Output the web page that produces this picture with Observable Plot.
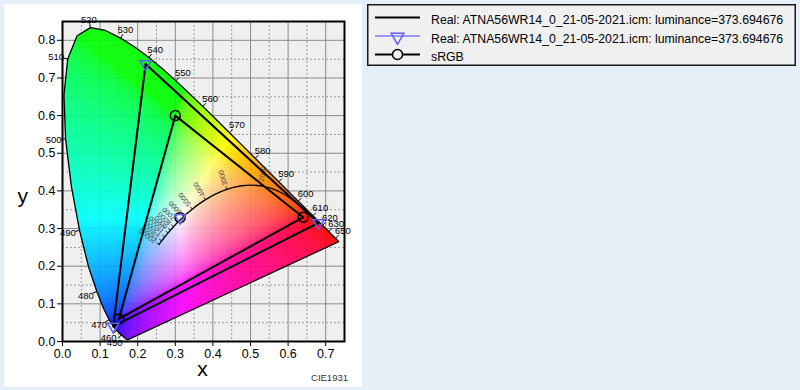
<!DOCTYPE html>
<html><head><meta charset="utf-8">
<script src="https://cdn.jsdelivr.net/npm/d3@7"></script>
<script src="https://cdn.jsdelivr.net/npm/@observablehq/plot@0.6"></script>
<style>
html,body{margin:0;padding:0;width:800px;height:390px;overflow:hidden;background:#e6eef8;font-family:"Liberation Sans",Arial,sans-serif;}
#panel{position:absolute;left:4px;top:4px;width:358px;height:383px;background:#ffffff;}
#chart{position:absolute;left:0;top:0;}
#legend{position:absolute;left:367px;top:4px;}
#cie{position:absolute;left:300px;width:48px;top:372px;text-align:right;font-size:9.5px;color:#333;}
</style></head>
<body>
<div id="panel"></div>
<div id="chart"></div>
<div id="legend"></div>
<div id="cie">CIE1931</div>
<script>
// CIE 1931 spectral locus (nm, x, y)
const locusW = [380,385,390,395,400,405,410,415,420,425,430,435,440,445,450,455,460,465,470,475,480,485,490,495,500,505,510,515,520,525,530,535,540,545,550,555,560,565,570,575,580,585,590,595,600,605,610,615,620,625,630,635,640,645,650,655,660,665,670,680,690,700];
const locusX = [0.1741,0.1740,0.1738,0.1736,0.1733,0.1730,0.1726,0.1721,0.1714,0.1703,0.1689,0.1669,0.1644,0.1611,0.1566,0.1510,0.1440,0.1355,0.1241,0.1096,0.0913,0.0687,0.0454,0.0235,0.0082,0.0039,0.0139,0.0389,0.0743,0.1142,0.1547,0.1929,0.2296,0.2658,0.3016,0.3373,0.3731,0.4087,0.4441,0.4788,0.5125,0.5448,0.5752,0.6029,0.6270,0.6482,0.6658,0.6801,0.6915,0.7006,0.7079,0.7140,0.7190,0.7230,0.7260,0.7283,0.7300,0.7311,0.7320,0.7334,0.7344,0.7347];
const locusY = [0.0050,0.0050,0.0049,0.0049,0.0048,0.0048,0.0048,0.0048,0.0051,0.0058,0.0069,0.0086,0.0109,0.0138,0.0177,0.0227,0.0297,0.0399,0.0578,0.0868,0.1327,0.2007,0.2950,0.4127,0.5384,0.6548,0.7502,0.8120,0.8338,0.8262,0.8059,0.7816,0.7543,0.7243,0.6923,0.6589,0.6245,0.5896,0.5547,0.5202,0.4866,0.4544,0.4242,0.3965,0.3725,0.3514,0.3340,0.3197,0.3083,0.2993,0.2920,0.2859,0.2809,0.2770,0.2740,0.2717,0.2700,0.2689,0.2680,0.2666,0.2656,0.2653];
const waveLabels = [450,460,470,480,490,500,510,520,530,540,550,560,570,580,590,600,610,620,630,650];

// Planckian locus (K, x, y)
const planckT = [1000,1500,2000,2500,3000,3500,4000,4500,5000,5500,6000,6500,7000,8000,9000,10000,12000,15000,20000];
const planckX = [0.6528,0.5857,0.5267,0.4770,0.4369,0.4053,0.3805,0.3608,0.3451,0.3325,0.3221,0.3135,0.3064,0.2952,0.2869,0.2807,0.2719,0.2637,0.2565];
const planckY = [0.3444,0.3931,0.4133,0.4137,0.4041,0.3907,0.3768,0.3636,0.3516,0.3411,0.3318,0.3236,0.3166,0.3048,0.2956,0.2884,0.2776,0.2671,0.2574];
const planckLabelT = [2000,3000,4000,5000,6000,7000,8000,9000,10000,12000,15000,20000];

// Measured display primaries (R, G, B) and white
const realX = [0.681,0.221,0.135];
const realY = [0.315,0.737,0.040];
const realWhiteX = [0.3127];
const realWhiteY = [0.329];

// sRGB primaries and white
const srgbX = [0.64,0.30,0.15];
const srgbY = [0.33,0.60,0.06];
const srgbWhiteX = [0.3127];
const srgbWhiteY = [0.329];

const xTicks = [0,0.1,0.2,0.3,0.4,0.5,0.6,0.7];
const yTicks = [0,0.1,0.2,0.3,0.4,0.5,0.6,0.7,0.8];
const xMinor = [0.05,0.15,0.25,0.35,0.45,0.55,0.65];
const yMinor = [0.05,0.15,0.25,0.35,0.45,0.55,0.65,0.75];

const legendLabels = [
  "Real: ATNA56WR14_0_21-05-2021.icm: luminance=373.694676",
  "Real: ATNA56WR14_0_21-05-2021.icm: luminance=373.694676",
  "sRGB"
];

// ---- derived tables ----
const locus = locusW.map((w,i)=>({w, x:locusX[i], y:locusY[i]}));
const locusClosed = locus.concat([locus[0]]);
const poly = locus.map(d=>[d.x,d.y]);

function gam(c){ return c <= 0.0031308 ? 12.92*c : 1.055*Math.pow(c,1/2.4)-0.055; }
function chroma(x, y){
  if (y <= 0 || !d3.polygonContains(poly,[x,y])) return null;
  const X = x/y, Y = 1, Z = (1-x-y)/y;
  let r = 3.2406*X - 1.5372*Y - 0.4986*Z;
  let g = -0.9689*X + 1.8758*Y + 0.0415*Z;
  let b = 0.0557*X - 0.2040*Y + 1.0570*Z;
  r = Math.max(r,0); g = Math.max(g,0); b = Math.max(b,0);
  const m = Math.max(r,g,b) || 1;
  r = gam(r/m); g = gam(g/m); b = gam(b/m);
  return `rgb(${Math.round(r*255)},${Math.round(g*255)},${Math.round(b*255)})`;
}

const PX = 376; // approx pixels per unit
const waveTable = waveLabels.map(w=>{
  const i = locusW.indexOf(w);
  const a = locus[Math.max(0,i-1)], b = locus[Math.min(locus.length-1,i+1)];
  let tx = b.x-a.x, ty = b.y-a.y; const L = Math.hypot(tx,ty); tx/=L; ty/=L;
  const nx = -ty, ny = tx;
  const k = (7 + 5*Math.abs(nx))/PX, t = 4.5/PX;
  const p = locus[i];
  return {w, x:p.x, y:p.y, tx2:p.x+nx*t, ty2:p.y+ny*t, lx:p.x+nx*k, ly:p.y+ny*k};
});

const planck = planckT.map((T,i)=>({T, x:planckX[i], y:planckY[i]}));
const planckTable = planckLabelT.map(T=>{
  const i = planckT.indexOf(T);
  const a = planck[Math.max(0,i-1)], b = planck[Math.min(planck.length-1,i+1)];
  let tx = b.x-a.x, ty = b.y-a.y; const L = Math.hypot(tx,ty); tx/=L; ty/=L;
  const nx = ty, ny = -tx; // up-left side
  const p = planck[i];
  const t = 3/PX, k = 4.5/PX;
  return {T, x:p.x, y:p.y, x2:p.x+nx*t, y2:p.y+ny*t, lx:p.x+nx*k, ly:p.y+ny*k,
          rot: Math.atan2(-ny, nx)*180/Math.PI};
});

const real = realX.map((x,i)=>({x, y:realY[i]}));
const realClosed = real.concat([real[0]]);
const realPts = real.concat(realWhiteX.map((x,i)=>({x, y:realWhiteY[i]})));
const srgb = srgbX.map((x,i)=>({x, y:srgbY[i]}));
const srgbClosed = srgb.concat([srgb[0]]);
const srgbPts = srgb.concat(srgbWhiteX.map((x,i)=>({x, y:srgbWhiteY[i]})));

const BLUE = "#5e5ef2";

const chart = Plot.plot({
  width: 362, height: 387,
  marginLeft: 62, marginRight: 18, marginTop: 21, marginBottom: 46,
  x: {domain:[0,0.75]},
  y: {domain:[0,0.85]},
  color: {type:"identity"},
  style: {background:"transparent", fontFamily:"Liberation Sans, Arial, sans-serif", color:"#000"},
  marks: [
    Plot.frame({fill:"#efefef", stroke:null}),
    Plot.gridX(xMinor, {stroke:"#9a9a9a", strokeOpacity:1, strokeDasharray:"2,2"}),
    Plot.gridY(yMinor, {stroke:"#9a9a9a", strokeOpacity:1, strokeDasharray:"2,2"}),
    Plot.gridX(xTicks, {stroke:"#8a8a8a", strokeOpacity:1}),
    Plot.gridY(yTicks, {stroke:"#8a8a8a", strokeOpacity:1}),
    Plot.raster({x1:0, x2:0.75, y1:0, y2:0.85, fill:(x,y)=>chroma(x,y), opacity:0.92}),
    Plot.line(locusClosed, {x:"x", y:"y", stroke:"#000", strokeWidth:1.3}),
    Plot.link(waveTable, {x1:"x", y1:"y", x2:"tx2", y2:"ty2", stroke:"#000", strokeWidth:1}),
    Plot.text(waveTable, {x:"lx", y:"ly", text:d=>String(d.w), fontSize:9.5, fill:"#000"}),
    Plot.line(planck, {x:"x", y:"y", curve:"natural", stroke:"#000", strokeWidth:1.3}),
    Plot.link(planckTable, {x1:"x", y1:"y", x2:"x2", y2:"y2", stroke:"#000", strokeWidth:0.8}),
    Plot.text(planckTable, {x:"lx", y:"ly", text:d=>String(d.T), rotate:"rot", textAnchor:"start", fontSize:7, fill:"#444"}),
    Plot.line(realClosed, {x:"x", y:"y", stroke:BLUE, strokeWidth:1.5}),
    Plot.line(realClosed, {x:"x", y:"y", stroke:"#000", strokeWidth:2}),
    Plot.line(srgbClosed, {x:"x", y:"y", stroke:"#000", strokeWidth:2}),
    Plot.dot(srgbPts, {x:"x", y:"y", r:5, stroke:"#000", strokeWidth:1.5, fill:"none"}),
    Plot.dot(realPts, {x:"x", y:"y", symbol:"triangle", rotate:180, r:4.2, stroke:BLUE, strokeWidth:1.5, fill:"none"}),
    Plot.frame({stroke:"#000", strokeWidth:2}),
    Plot.axisX(xTicks, {tickSize:5, tickPadding:3, fontSize:12.5, tickFormat:d=>d.toFixed(1), label:null}),
    Plot.axisY(yTicks, {tickSize:5, tickPadding:2, fontSize:12.5, tickFormat:d=>d.toFixed(1), label:null}),
    Plot.text(["x"], {text:d=>d, frameAnchor:"bottom", dy:34, dx:-1, fontSize:21}),
    Plot.text(["y"], {text:d=>d, frameAnchor:"left", dx:-45, dy:15, fontSize:21})
  ]
});
document.getElementById("chart").appendChild(chart);

// legend
const W = 429, H = 62;
const rowsY = [20, 38.5, 57].map(v=>v-4);
const svg = d3.create("svg").attr("width", W).attr("height", H)
  .style("font-family","Liberation Sans, Arial, sans-serif");
svg.append("rect").attr("x",0.75).attr("y",0.75).attr("width",W-1.5).attr("height",H-1.5)
  .attr("fill","#f0f0f0").attr("stroke","#1a1a1a").attr("stroke-width",1.5);
const sampleX1 = 8, sampleX2 = 53, sampleC = 30.5, textX = 64;
const lineColors = ["#000", "#7d7dff", "#000"];
legendLabels.forEach((lab,i)=>{
  const y = rowsY[i];
  svg.append("line").attr("x1",sampleX1).attr("x2",sampleX2).attr("y1",y-2.5).attr("y2",y-2.5)
    .attr("stroke",lineColors[i]).attr("stroke-width", i===1 ? 1.5 : 2);
  if (i===1) {
    svg.append("path").attr("d", d3.symbol(d3.symbolTriangle, 70)())
      .attr("transform",`translate(${sampleC},${y-1.5}) rotate(180)`)
      .attr("fill","none").attr("stroke",BLUE).attr("stroke-width",1.5);
  }
  if (i===2) {
    svg.append("circle").attr("cx",sampleC).attr("cy",y-2.5).attr("r",5)
      .attr("fill","#f0f0f0").attr("stroke","#000").attr("stroke-width",1.5);
  }
  svg.append("text").attr("x",textX).attr("y",y).attr("dy","0.35em")
    .attr("font-size",12.3).attr("fill","#000").text(lab);
});
document.getElementById("legend").appendChild(svg.node());
</script>
</body></html>
